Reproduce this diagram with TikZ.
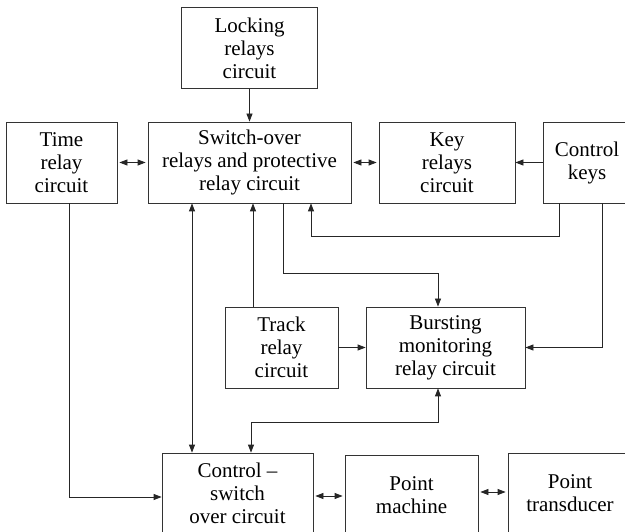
\documentclass[tikz,border=0pt]{standalone}
\usepackage{fontspec}
\setmainfont{Liberation Serif}
\usetikzlibrary{arrows.meta}
\begin{document}
\begin{tikzpicture}[x=1pt,y=-1pt,
  box/.style={draw=black!80,line width=0.8pt,minimum height=81pt,align=center,inner sep=0pt,
    font=\fontsize{21}{23}\selectfont},
  conn/.style={draw=black!85,line width=0.8pt},
  tip/.tip={Triangle[length=8pt,width=6pt]}]
\clip (0,0) rectangle (625,532);
\fill[white] (0,0) rectangle (625,532);
\node[box,minimum width=136pt] (lock) at (249.5,48) {Locking\\relays\\circuit};
\node[box,minimum width=111pt] (time) at (61.5,162.5) {Time\\relay\\circuit};
\node[box,minimum width=203pt] (sw) at (249.5,162.5) {Switch-over\\relays and protective\\relay circuit};
\node[box,minimum width=136pt] (key) at (447,162.5) {Key\\relays\\circuit};
\node[box,minimum width=88pt] (ck) at (587,162.5) {Control\\keys};
\node[box,minimum width=113pt] (track) at (281.5,347.5) {Track\\relay\\circuit};
\node[box,minimum width=159pt] (burst) at (445.5,347.5) {Bursting\\monitoring\\relay circuit};
\node[box,minimum width=151pt] (ctl) at (237.5,493.5) {Control --\\switch\\over circuit};
\node[box,minimum width=133pt] (pm) at (411.5,495.5) {Point\\machine};
\node[box,minimum width=124pt] (pt) at (570,493.5) {Point\\transducer};
\coordinate (xa) at (559,0);
\coordinate (xb) at (602,0);
\coordinate (xc) at (311,0);
\coordinate (xd) at (283,0);
\coordinate (xe) at (438,0);
\coordinate (xf) at (253,0);
\coordinate (xg) at (192,0);
\coordinate (xh) at (251,0);
\coordinate (xi) at (69,0);
\coordinate (ya) at (0,236);
\coordinate (yb) at (0,273);
\coordinate (yc) at (0,422);
\coordinate (yd) at (0,497);
\coordinate (ye) at (0,496);
\coordinate (yf) at (0,492);
\draw[conn,-{tip}] (lock.south) -- (sw.north);
\draw[conn,{tip}-{tip},shorten <=2pt,shorten >=2pt] (time.east) -- (sw.west);
\draw[conn,{tip}-{tip},shorten <=2pt,shorten >=2pt] (sw.east) -- (key.west);
\draw[conn,-{tip}] (ck.west) -- (key.east);
\draw[conn,-{tip}] (ck.south -| xa) -- (ya -| xa) -- (ya -| xc) -- (sw.south -| xc);
\draw[conn,-{tip}] (ck.south -| xb) -- (burst.east -| xb) -- (burst.east);
\draw[conn,-{tip}] (sw.south -| xd) -- (yb -| xd) -- (yb -| xe) -- (burst.north -| xe);
\draw[conn,-{tip}] (track.north -| xf) -- (sw.south -| xf);
\draw[conn,-{tip}] (track.east) -- (burst.west);
\draw[conn,{tip}-{tip}] (burst.south -| xe) -- (yc -| xe) -- (yc -| xh) -- (ctl.north -| xh);
\draw[conn,{tip}-{tip}] (sw.south -| xg) -- (ctl.north -| xg);
\draw[conn,-{tip}] (time.south -| xi) -- (yd -| xi) -- (ctl.west |- yd);
\draw[conn,{tip}-{tip},shorten <=2pt,shorten >=2pt] (ctl.east |- ye) -- (pm.west |- ye);
\draw[conn,{tip}-{tip},shorten <=2pt,shorten >=2pt] (pm.east |- yf) -- (pt.west |- yf);
\end{tikzpicture}
\end{document}
